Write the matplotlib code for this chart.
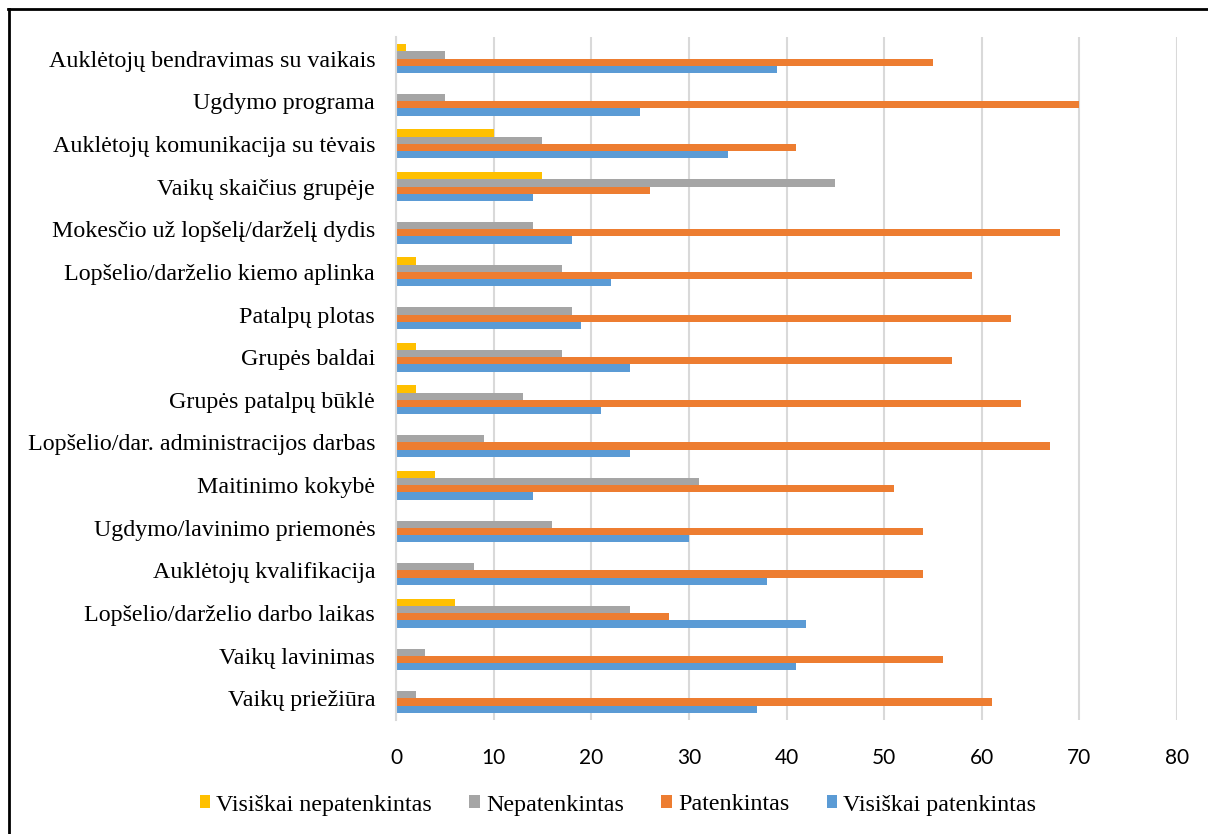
import matplotlib
matplotlib.use("Agg")
import matplotlib.pyplot as plt
import numpy as np
from matplotlib.lines import Line2D

categories = [
    "Auklėtojų bendravimas su vaikais",
    "Ugdymo programa",
    "Auklėtojų komunikacija su tėvais",
    "Vaikų skaičius grupėje",
    "Mokesčio už lopšelį/darželį dydis",
    "Lopšelio/darželio kiemo aplinka",
    "Patalpų plotas",
    "Grupės baldai",
    "Grupės patalpų būklė",
    "Lopšelio/dar. administracijos darbas",
    "Maitinimo kokybė",
    "Ugdymo/lavinimo priemonės",
    "Auklėtojų kvalifikacija",
    "Lopšelio/darželio darbo laikas",
    "Vaikų lavinimas",
    "Vaikų priežiūra",
]
visiskai_nepatenkintas = [1, 0, 10, 15, 0, 2, 0, 2, 2, 0, 4, 0, 0, 6, 0, 0]
nepatenkintas = [5, 5, 15, 45, 14, 17, 18, 17, 13, 9, 31, 16, 8, 24, 3, 2]
patenkintas = [55, 70, 41, 26, 68, 59, 63, 57, 64, 67, 51, 54, 54, 28, 56, 61]
visiskai_patenkintas = [39, 25, 34, 14, 18, 22, 19, 24, 21, 24, 14, 30, 38, 42, 41, 37]
series_names = ["Visiškai nepatenkintas", "Nepatenkintas", "Patenkintas", "Visiškai patenkintas"]
colors = ["#FFC000", "#A5A5A5", "#ED7D31", "#5B9BD5"]
xticks = [0, 10, 20, 30, 40, 50, 60, 70, 80]

W, H = 1208, 834
fig = plt.figure(figsize=(W / 100, H / 100), dpi=100)
ax = fig.add_axes([396 / W, 1 - 719.8 / H, 781 / W, (719.8 - 37.2) / H])

serif = ["Liberation Serif", "DejaVu Serif"]
sans = ["Lato", "DejaVu Sans"]

y = np.arange(len(categories))
bh = 0.17
series = [visiskai_nepatenkintas, nepatenkintas, patenkintas, visiskai_patenkintas]
handles = []
for i, (vals, c, name) in enumerate(zip(series, colors, series_names)):
    offs = (i - 1.5) * bh
    b = ax.barh(y + offs, vals, height=bh, color=c, label=name, zorder=3)
    handles.append(b)

ax.set_ylim(len(categories) - 0.5, -0.5)
ax.set_xlim(0, 80)
ax.set_xticks(xticks)
ax.set_xticklabels([str(t) for t in xticks], fontfamily=sans, fontsize=15)
ax.set_yticks(y)
ax.set_yticklabels(categories, fontfamily=serif, fontsize=17.3)
ax.tick_params(axis="both", length=0)
ax.tick_params(axis="x", pad=20)
ax.tick_params(axis="y", pad=15)
ax.grid(axis="x", color="#D9D9D9", linewidth=1.5, zorder=0)
for s in ["top", "right", "bottom"]:
    ax.spines[s].set_visible(False)
ax.spines["left"].set_color("#D9D9D9")
ax.spines["left"].set_linewidth(1.5)
ax.spines["left"].set_zorder(4)

fig.legend(handles=handles, labels=series_names, loc="center", ncol=4,
           bbox_to_anchor=(618 / W, 1 - 805 / H), frameon=False,
           prop={"family": serif, "size": 17.3}, handlelength=0.45, handleheight=0.45,
           handletextpad=0.25, columnspacing=1.55)

fig.add_artist(Line2D([9 / W, 9 / W], [0, 1 - 8.5 / H], transform=fig.transFigure,
                      color="black", linewidth=2.0))
fig.add_artist(Line2D([8 / W, 1], [1 - 8.5 / H, 1 - 8.5 / H], transform=fig.transFigure,
                      color="black", linewidth=2.0))

fig.savefig("out.png", dpi=100)
